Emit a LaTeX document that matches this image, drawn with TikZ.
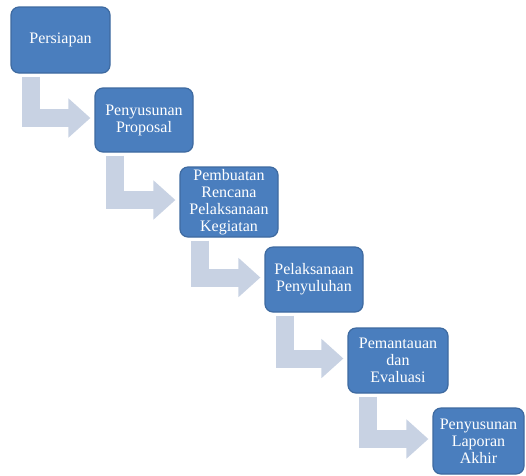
\documentclass[tikz,border=0pt]{standalone}
\usepackage{fontspec}
\setmainfont{Liberation Serif}
\usetikzlibrary{arrows.meta}
\definecolor{stepblue}{RGB}{74,126,190}
\definecolor{stepedge}{RGB}{62,106,160}
\definecolor{bendgray}{RGB}{200,210,227}

\begin{document}
\begin{tikzpicture}[x=1pt,y=-1pt,
    stepbox/.style={draw=stepedge,line width=1.2pt,fill=stepblue,rounded corners=8pt,
      text=white,align=center,inner sep=1pt,
      font=\fontsize{16}{17}\selectfont},
    bentarrow/.style={draw=bendgray,line width=18pt,line join=miter,
      -{Triangle[width=38pt,length=22pt]}}]
  \useasboundingbox (0,0) rectangle (526,475);
  % steps
  \node[stepbox,minimum width=99pt,minimum height=66pt] (persiapan) at (60.5,40) {Persiapan};
  \node[stepbox,minimum width=98pt,minimum height=64pt] (proposal) at (144,120) {Penyusunan\\Proposal};
  \node[stepbox,minimum width=98pt,minimum height=70pt] (rencana) at (229,202) {Pembuatan\\Rencana\\Pelaksanaan\\Kegiatan};
  \node[stepbox,minimum width=98pt,minimum height=65pt] (penyuluhan) at (314,279.5) {Pelaksanaan\\Penyuluhan};
  \node[stepbox,minimum width=100pt,minimum height=65pt] (evaluasi) at (398,360.5) {Pemantauan\\dan\\Evaluasi};
  \node[stepbox,minimum width=91pt,minimum height=66pt] (laporan) at (478.5,441) {Penyusunan\\Laporan\\Akhir};
  % bent arrows
  \foreach \a/\b in {persiapan/proposal,proposal/rencana,rencana/penyuluhan,
                     penyuluhan/evaluasi,evaluasi/laporan}
    \draw[bentarrow] ([xshift=21pt,yshift=-3pt]\a.south west) |- ([xshift=-4pt,yshift=2pt]\b.west);
\end{tikzpicture}
\end{document}
